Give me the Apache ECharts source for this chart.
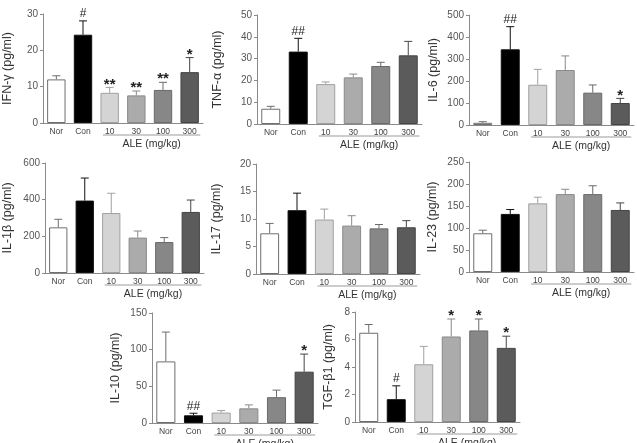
<!DOCTYPE html>
<html>
<head>
<meta charset="utf-8">
<script src="https://cdn.jsdelivr.net/npm/echarts@6/dist/echarts.min.js"></script>
<style>
  html, body { margin: 0; padding: 0; background: #fff; }
  #chart { width: 637px; height: 443px; }
</style>
</head>
<body>
<div id="chart"></div>
<script>
// groups on every panel
var categories = ['Nor', 'Con', '10', '30', '100', '300'];
var doseLabel = 'ALE (mg/kg)';

// means and upper error (SEM)
var ifnMean = [12.0, 24.3, 8.3, 7.6, 9.1, 14.0];
var ifnErr = [1.0, 3.8, 1.5, 1.2, 2.1, 4.0];
var ifnMarks = ['', '#', '**', '**', '**', '*'];

var tnfMean = [7.0, 33.2, 18.3, 21.4, 26.6, 31.5];
var tnfErr = [1.1, 6.1, 1.0, 1.5, 1.7, 6.4];
var tnfMarks = ['', '##', '', '', '', ''];

var il6Mean = [10, 344, 183, 250, 147, 100];
var il6Err = [5, 103, 70, 64, 35, 21];
var il6Marks = ['', '##', '', '', '', '*'];

var il1bMean = [249, 395, 327, 193, 169, 333];
var il1bErr = [44, 123, 108, 36, 24, 65];
var il1bMarks = ['', '', '', '', '', ''];

var il17Mean = [7.4, 11.6, 9.9, 8.8, 8.3, 8.5];
var il17Err = [1.8, 3.1, 1.9, 1.8, 0.7, 1.2];
var il17Marks = ['', '', '', '', '', ''];

var il23Mean = [88, 132, 156, 177, 177, 141];
var il23Err = [7, 10, 14, 11, 19, 16];
var il23Marks = ['', '', '', '', '', ''];

var il10Mean = [84, 10.5, 14.2, 20, 35.2, 70];
var il10Err = [40, 2.8, 2.8, 4.7, 9.6, 24];
var il10Marks = ['', '##', '', '', '', '*'];

var tgfMean = [6.49, 1.66, 4.2, 6.22, 6.66, 5.39];
var tgfErr = [0.6, 0.97, 1.3, 1.27, 0.83, 0.85];
var tgfMarks = ['', '#', '', '*', '*', '*'];

// axis names and scales
var yNames = ['IFN-γ (pg/ml)', 'TNF-α (pg/ml)', 'IL-6 (pg/ml)', 'IL-1β (pg/ml)',
  'IL-17 (pg/ml)', 'IL-23 (pg/ml)', 'IL-10 (pg/ml)', 'TGF-β1 (pg/ml)'];
var yMax = [30, 50, 500, 600, 20, 250, 150, 8];
var yStep = [10, 10, 100, 200, 5, 50, 50, 2];

var panels = [
  { mean: ifnMean, err: ifnErr, marks: ifnMarks },
  { mean: tnfMean, err: tnfErr, marks: tnfMarks },
  { mean: il6Mean, err: il6Err, marks: il6Marks },
  { mean: il1bMean, err: il1bErr, marks: il1bMarks },
  { mean: il17Mean, err: il17Err, marks: il17Marks },
  { mean: il23Mean, err: il23Err, marks: il23Marks },
  { mean: il10Mean, err: il10Err, marks: il10Marks },
  { mean: tgfMean, err: tgfErr, marks: tgfMarks }
];

// layout of the 8 panels
var boxes = [
  { left: 39, top: 14, width: 164, height: 109, gap: 29 },
  { left: 257, top: 15, width: 165, height: 109, gap: 33 },
  { left: 469, top: 15, width: 165, height: 110, gap: 29 },
  { left: 38, top: 163, width: 166, height: 110, gap: 31 },
  { left: 256, top: 164, width: 164, height: 110, gap: 33 },
  { left: 469, top: 162, width: 165, height: 110, gap: 30 },
  { left: 152, top: 313, width: 166, height: 110, gap: 30 },
  { left: 355, top: 312, width: 165, height: 110, gap: 20 }
];

var fills = ['#ffffff', '#000000', '#d4d4d4', '#ababab', '#878787', '#5b5b5b'];
var borders = ['#6e6e6e', '#111111', '#a0a0a0', '#8a8a8a', '#6a6a6a', '#454545'];
var FONT = '"Liberation Sans", Arial, sans-serif';
var axisGrey = '#8a8a8a';

var grids = [], xAxes = [], yAxes = [], series = [];

boxes.forEach(function (b, k) {
  var p = panels[k];
  grids.push({ left: b.left, top: b.top, width: b.width, height: b.height });
  xAxes.push({
    type: 'category', gridIndex: k, data: categories,
    axisLine: { lineStyle: { color: axisGrey } },
    axisTick: { show: false },
    axisLabel: { color: '#444', fontSize: 8.5, fontFamily: FONT, margin: 4, interval: 0 }
  });
  yAxes.push({
    type: 'value', gridIndex: k, min: 0, max: yMax[k], interval: yStep[k],
    name: yNames[k], nameLocation: 'middle', nameGap: b.gap,
    nameTextStyle: { color: '#333', fontSize: 12.5, fontFamily: FONT },
    axisLine: { show: true, lineStyle: { color: axisGrey } },
    axisTick: { show: true, length: 3, lineStyle: { color: axisGrey } },
    axisLabel: { color: '#555', fontSize: 10, fontFamily: FONT, margin: 5 },
    splitLine: { show: false }
  });

  series.push({
    type: 'bar', xAxisIndex: k, yAxisIndex: k, barWidth: '69%',
    data: p.mean.map(function (v, i) {
      return { value: v, itemStyle: { color: fills[i], borderColor: borders[i], borderWidth: 1 } };
    }),
    animation: false
  });

  // error bars (upper only) and significance marks
  series.push({
    type: 'custom', xAxisIndex: k, yAxisIndex: k, z: 5,
    data: p.mean.map(function (v, i) { return [i, v, v + p.err[i]]; }),
    encode: { x: 0, y: 2 },
    renderItem: function (params, api) {
      var i = api.value(0);
      var base = api.coord([i, api.value(1)]);
      var top = api.coord([i, api.value(2)]);
      var col = borders[i];
      var kids = [
        { type: 'line', shape: { x1: base[0], y1: base[1], x2: top[0], y2: top[1] },
          style: { stroke: col, lineWidth: 1 } },
        { type: 'line', shape: { x1: top[0] - 4, y1: top[1], x2: top[0] + 4, y2: top[1] },
          style: { stroke: col, lineWidth: 1 } }
      ];
      var m = p.marks[i];
      if (m) {
        var star = m.charAt(0) === '*';
        kids.push({
          type: 'text',
          style: {
            text: m, x: top[0], y: top[1] - (star ? 3 : 7),
            align: 'center', verticalAlign: 'middle',
            fontSize: star ? 15 : 12, fontWeight: star ? 'bold' : 'normal',
            fontFamily: FONT, fill: '#222'
          }
        });
      }
      return { type: 'group', children: kids };
    },
    animation: false
  });

  // dose group underline and label
  series.push({
    type: 'custom', xAxisIndex: k, yAxisIndex: k, silent: true,
    data: [[2, 0, 5]],
    encode: { x: 0, y: 1 },
    renderItem: function (params, api) {
      var a = api.coord([api.value(0), 0]);
      var c = api.coord([api.value(2), 0]);
      var band = api.size([1, 0])[0];
      var x1 = a[0] - band * 0.25, x2 = c[0] + band * 0.4;
      return {
        type: 'group',
        children: [
          { type: 'line', shape: { x1: x1, y1: a[1] + 12, x2: x2, y2: a[1] + 12 },
            style: { stroke: '#9a9a9a', lineWidth: 1 } },
          { type: 'text', style: { text: doseLabel, x: (x1 + x2) / 2, y: a[1] + 21,
            align: 'center', verticalAlign: 'middle', fontSize: 10.5,
            fontFamily: FONT, fill: '#333' } }
        ]
      };
    },
    animation: false
  });
});

var myChart = echarts.init(document.getElementById('chart'));
myChart.setOption({
  animation: false,
  grid: grids,
  xAxis: xAxes,
  yAxis: yAxes,
  series: series
});
</script>
</body>
</html>
